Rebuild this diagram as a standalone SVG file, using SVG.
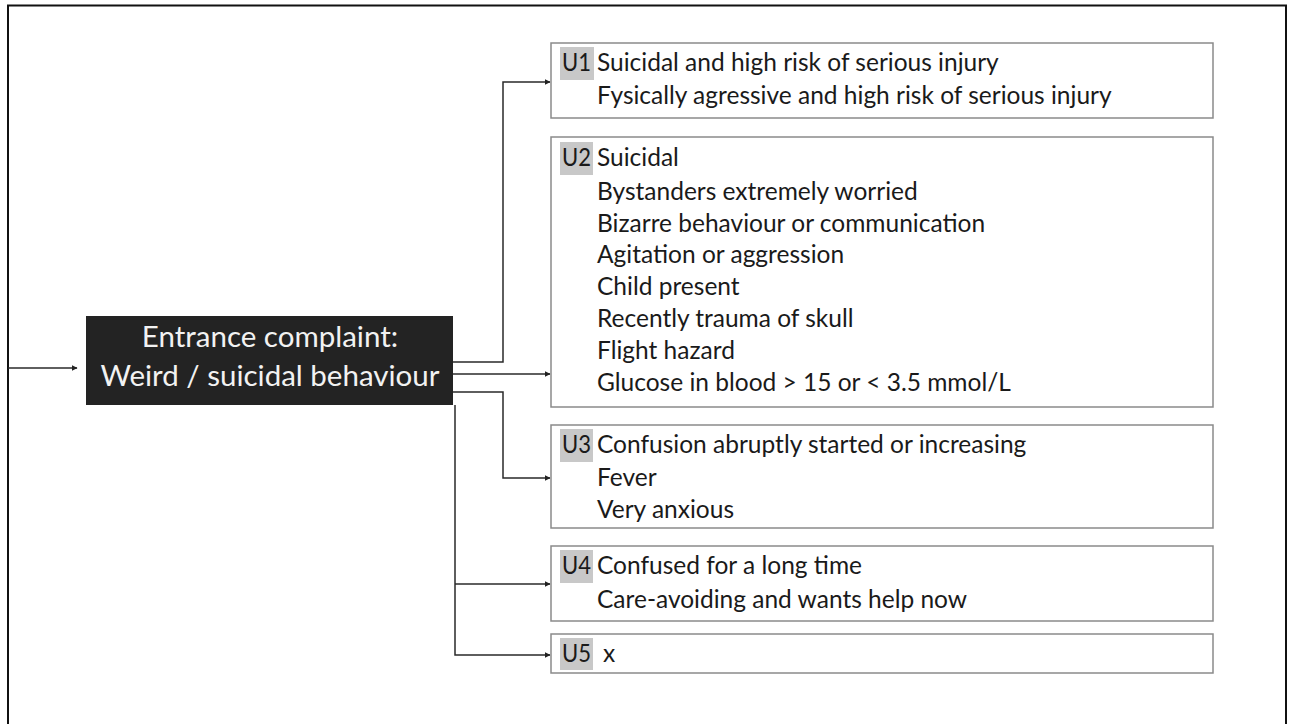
<svg xmlns="http://www.w3.org/2000/svg" width="1296" height="724" viewBox="0 0 1296 724">
<defs>
<marker id="arr" viewBox="0 0 10 10" refX="9" refY="5" markerWidth="6" markerHeight="6" markerUnits="userSpaceOnUse" orient="auto">
<path d="M0,0 L10,5 L0,10 z" fill="#222"/>
</marker>
<style>
.frame{fill:none;stroke:#111;stroke-width:2}
.box{fill:#fff;stroke:#8a8a8a;stroke-width:1.5}
.hl{fill:#c8c8c8}
.t{font-family:Lato,"Open Sans","Liberation Sans",sans-serif;font-size:24.5px;fill:#1a1a1a}
.main{fill:#232323}
.mt{font-family:Lato,"Open Sans","Liberation Sans",sans-serif;font-size:29.5px;fill:#f2f2f2;text-anchor:middle}
.c{fill:none;stroke:#2a2a2a;stroke-width:1.5;marker-end:url(#arr)}
</style>
</defs>
<rect width="1296" height="724" fill="#fff"/>
<rect class="frame" x="8" y="5.5" width="1278" height="730"/>

<g id="connectors">
<path class="c" d="M8,368 H77"/>
<path class="c" d="M453,362 H503 V82 H550"/>
<path class="c" d="M453,374 H550"/>
<path class="c" d="M453,392 H503 V478 H550"/>
<path class="c" d="M455,405 V655 H550"/>
<path class="c" d="M455,584 H550"/>
</g>

<g id="entrance">
<rect class="main" x="86" y="316" width="367" height="89"/>
<text class="mt" x="270" y="347">Entrance complaint:</text>
<text class="mt" x="270" y="386">Weird / suicidal behaviour</text>
</g>

<g id="u1">
<rect class="box" x="551" y="43" width="662" height="75"/>
<rect class="hl" x="560" y="47" width="34" height="33"/>
<text class="t" x="562" y="71" textLength="29" lengthAdjust="spacingAndGlyphs">U1</text>
<text class="t" x="597" y="71">Suicidal and high risk of serious injury</text>
<text class="t" x="597" y="104">Fysically agressive and high risk of serious injury</text>
</g>

<g id="u2">
<rect class="box" x="551" y="137" width="662" height="270"/>
<rect class="hl" x="560" y="142" width="33" height="33"/>
<text class="t" x="562" y="166" textLength="29" lengthAdjust="spacingAndGlyphs">U2</text>
<text class="t" x="597" y="166">Suicidal</text>
<text class="t" x="597" y="200">Bystanders extremely worried</text>
<text class="t" x="597" y="232">Bizarre behaviour or communication</text>
<text class="t" x="597" y="263">Agitation or aggression</text>
<text class="t" x="597" y="295">Child present</text>
<text class="t" x="597" y="327">Recently trauma of skull</text>
<text class="t" x="597" y="359">Flight hazard</text>
<text class="t" x="597" y="391">Glucose in blood &gt; 15 or &lt; 3.5 mmol/L</text>
</g>

<g id="u3">
<rect class="box" x="551" y="425" width="662" height="103"/>
<rect class="hl" x="560" y="429" width="33" height="33"/>
<text class="t" x="562" y="453" textLength="29" lengthAdjust="spacingAndGlyphs">U3</text>
<text class="t" x="597" y="453">Confusion abruptly started or increasing</text>
<text class="t" x="597" y="486">Fever</text>
<text class="t" x="597" y="518">Very anxious</text>
</g>

<g id="u4">
<rect class="box" x="551" y="546" width="662" height="75"/>
<rect class="hl" x="560" y="550" width="33" height="33"/>
<text class="t" x="562" y="574" textLength="29" lengthAdjust="spacingAndGlyphs">U4</text>
<text class="t" x="597" y="574">Confused for a long time</text>
<text class="t" x="597" y="608">Care-avoiding and wants help now</text>
</g>

<g id="u5">
<rect class="box" x="551" y="634" width="662" height="39"/>
<rect class="hl" x="560" y="638" width="33" height="32"/>
<text class="t" x="562" y="662" textLength="29" lengthAdjust="spacingAndGlyphs">U5</text>
<text class="t" x="603" y="662">x</text>
</g>
</svg>
